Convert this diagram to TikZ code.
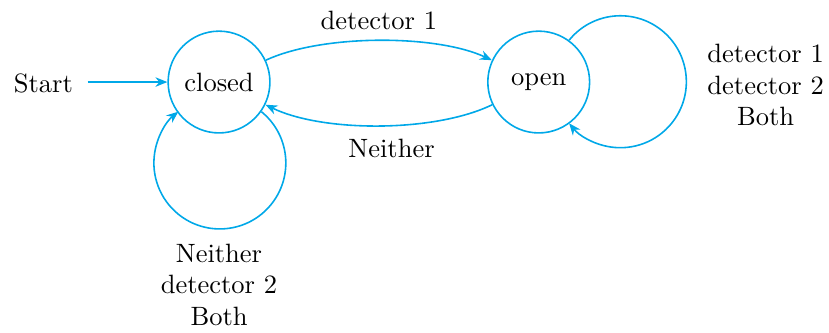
\documentclass[tikz,border=0pt]{standalone}
\usetikzlibrary{arrows.meta}

\definecolor{sensorblue}{RGB}{0,168,232}

\tikzset{
  doorstate/.style={circle, draw=sensorblue, semithick, minimum size=1.35cm, inner sep=0pt},
  trans/.style={->, draw=sensorblue, semithick},
  >={Stealth[length=4.5pt, width=3.6pt]}
}

\begin{document}
\begin{tikzpicture}
  \useasboundingbox (-2.905,-3.316) rectangle (8.09,1.088);

  \node [doorstate] (closed) at (0,0) {closed};
  \node [doorstate] (open) at (4.24,0) {open};
  \node (start) at (-2.33,-0.02) {Start};

  \draw [trans, shorten <=2pt] (start.east |- closed) -- (closed);
  \draw [trans] (closed) to [bend left=25, looseness=0.7] node [above, yshift=0.5pt] {detector 1} (open);
  \draw [trans] (open) to [bend left=26, looseness=0.72] node [below, pos=0.45, yshift=-1.5pt] {Neither} (closed);

  % self loops
  \draw [trans] (closed.-35.6) arc [start angle=51, end angle=-231, radius=0.875cm];
  \draw [trans] (open.54.4) arc [start angle=141, end angle=-141, radius=0.875cm];

  \node [align=center] (closedloop) at (0,-2.69) {Neither\\detector 2\\Both};
  \node [align=center] (openloop) at (7.25,-0.04) {detector 1\\detector 2\\Both};
\end{tikzpicture}
\end{document}
